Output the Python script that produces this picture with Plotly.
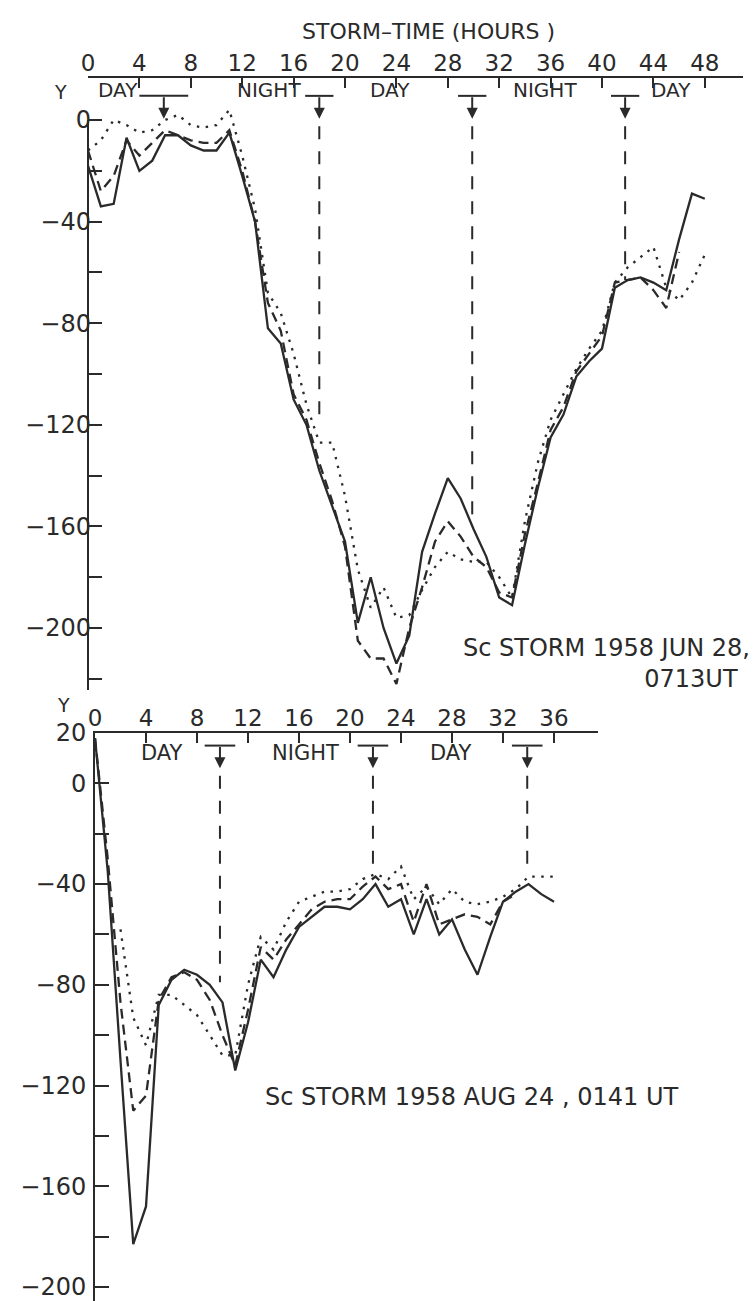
import plotly.graph_objects as go

W, H = 755, 1301
INK = "#2a2a2a"
FONT = "DejaVu Sans"

# ---------------- data: storm of 1958 JUN 28 (top panel) ----------------
top_hours = list(range(0, 49))
top_solid = [-18, -34, -33, -7, -20, -16, -6, -6, -10, -12, -12, -5,
             -22, -40, -82, -88, -110, -120, -138, -152, -166, -198, -180, -200,
             -214, -203, -170, -155, -141, -149, -161, -172, -188, -191, -167, -145,
             -125, -116, -101, -95, -90, -66, -63, -62, -64, -67, -47, -29, -31]
top_dashed_hours = list(range(0, 47))
top_dashed = [-12, -28, -22, -8, -14, -9, -4, -6, -8, -9, -9, -4,
              -20, -40, -72, -83, -108, -118, -135, -150, -168, -205, -212, -212,
              -222, -200, -184, -166, -158, -164, -172, -176, -186, -188, -163, -143,
              -122, -113, -99, -92, -85, -64, -63, -62, -67, -74, -52]
top_dotted = [-12, -8, 0, -2, -5, -4, 0, 2, -2, -3, -2, 4,
              -14, -35, -68, -76, -92, -112, -127, -127, -148, -177, -192, -184,
              -196, -195, -185, -176, -170, -173, -174, -174, -180, -188, -158, -135,
              -118, -108, -98, -90, -83, -64, -58, -54, -50, -66, -71, -64, -53]

# ---------------- data: storm of 1958 AUG 24 (bottom panel) ----------------
bot_hours = list(range(0, 37))
bot_solid = [18, -35, -110, -183, -168, -88, -78, -74, -76, -80, -87, -114,
             -95, -70, -77, -66, -57, -53, -49, -49, -50, -46, -40, -49,
             -46, -60, -46, -60, -54, -66, -76, -61, -47, -43, -40, -44, -47]
bot_dashed_hours = list(range(0, 34))
bot_dashed = [18, -30, -87, -130, -124, -86, -77, -75, -78, -86, -100, -112,
              -90, -65, -70, -62, -56, -50, -47, -46, -46, -41, -37, -42,
              -40, -55, -40, -56, -54, -52, -53, -56, -47, -44]
bot_dotted_hours = list(range(2, 37))
bot_dotted = [-58, -93, -104, -84, -84, -88, -92, -100, -108, -108,
              -80, -61, -66, -55, -47, -45, -43, -43, -42, -38, -36, -38,
              -33, -46, -41, -48, -42, -47, -48, -47, -45, -42, -37, -37, -37]

# tick labels
top_xticks = list(range(0, 49, 4))
bot_xticks = list(range(0, 37, 4))
top_yticks = list(range(0, -221, -20))
top_ylabels = ["0", "", "\u221240", "", "\u221280", "", "\u2212120", "", "\u2212160", "", "\u2212200", ""]
bot_yticks = list(range(20, -201, -20))
bot_ylabels = ["20", "0", "", "\u221240", "", "\u221280", "", "\u2212120", "", "\u2212160", "", "\u2212200"]

# local noon / midnight markers (hours) and day/night labels
top_marks = [5.9, 18.0, 29.9, 41.8]
top_mark_ends = [None, -119, -157, -63]
bot_marks = [9.8, 21.8, 33.9]
bot_mark_ends = [-79, -36, -36]
top_phase = ["DAY", "NIGHT", "DAY", "NIGHT", "DAY"]
top_phase_x = [2.35, 14.1, 23.5, 35.6, 45.4]
bot_phase = ["DAY", "NIGHT", "DAY"]
bot_phase_x = [5.25, 16.5, 27.9]

# ---------------- geometry (pixels) ----------------
TOP_X0, TOP_PXH = 88, 12.85
TOP_Y0, TOP_PXU = 120, 2.54
BOT_X0, BOT_PXH = 95, 12.75
BOT_Y0, BOT_PXU = 783, 2.52


def px(x):
    return x / W


def py(y):
    return 1 - y / H


top_xr = [0, (743 - TOP_X0) / TOP_PXH]
top_yr = [(TOP_Y0 - 690) / TOP_PXU, (TOP_Y0 - 78) / TOP_PXU]
bot_xr = [0, (598 - BOT_X0) / BOT_PXH]
bot_yr = [(BOT_Y0 - H) / BOT_PXU, 20]

fig = go.Figure()


def add_line(x, y, xa, ya, dash):
    fig.add_trace(go.Scatter(x=x, y=y, mode="lines", xaxis=xa, yaxis=ya,
                             line=dict(color=INK, width=2.3, dash=dash),
                             showlegend=False, hoverinfo="skip"))


DOT = "2.5px,6.5px"
DASH = "10px,6px"
add_line(top_hours, top_solid, "x", "y", "solid")
add_line(top_dashed_hours, top_dashed, "x", "y", DASH)
add_line(top_hours, top_dotted, "x", "y", DOT)
add_line(bot_hours, bot_solid, "x2", "y2", "solid")
add_line(bot_dashed_hours, bot_dashed, "x2", "y2", DASH)
add_line(bot_dotted_hours, bot_dotted, "x2", "y2", DOT)

tickfont = dict(family=FONT, size=23, color=INK)
common_x = dict(side="top", showline=True, linecolor=INK, linewidth=2, ticks="inside",
                ticklen=10, tickwidth=2, tickcolor=INK, showgrid=False, zeroline=False,
                tickfont=tickfont, ticklabelstandoff=-4, automargin=False,
                ticklabeloverflow="allow")
common_y = dict(ticks="inside", ticklen=14, tickwidth=2, tickcolor=INK, showgrid=False,
                zeroline=False, tickfont=dict(family=FONT, size=24, color=INK),
                tickmode="array", automargin=False, ticklabeloverflow="allow")

fig.update_layout(
    template="none",
    width=W, height=H, margin=dict(l=0, r=0, t=0, b=0, pad=0, autoexpand=False),
    paper_bgcolor="white", plot_bgcolor="white",
    xaxis=dict(domain=[px(TOP_X0), px(743)], range=top_xr, anchor="y",
               tickvals=top_xticks, **common_x),
    yaxis=dict(domain=[py(690), py(78)], range=top_yr, anchor="x", showline=False,
               tickvals=top_yticks, ticktext=top_ylabels, ticklabelstandoff=-4,
               **common_y),
    xaxis2=dict(domain=[px(BOT_X0), px(598)], range=bot_xr, anchor="y2",
                tickvals=bot_xticks, **common_x),
    yaxis2=dict(domain=[0, py(733)], range=bot_yr, anchor="x2", showline=True,
                linecolor=INK, linewidth=2, ticklabelstandoff=2,
                tickvals=bot_yticks, ticktext=bot_ylabels, **common_y),
)

shapes = []
# top y-axis line from 0 downward
shapes.append(dict(type="line", xref="paper", yref="y", x0=px(TOP_X0), x1=px(TOP_X0),
                   y0=0, y1=top_yr[0], line=dict(color=INK, width=2)))

annotations = []


def marker(xref, yref, h, bar_y, tip_y, half, end):
    shapes.append(dict(type="line", xref=xref, yref=yref, x0=h - half, x1=h + half,
                       y0=bar_y, y1=bar_y, line=dict(color=INK, width=2)))
    annotations.append(dict(xref=xref, yref=yref, x=h, y=tip_y, ax=h, ay=bar_y,
                            axref=xref, ayref=yref, text="", showarrow=True,
                            arrowhead=2, arrowsize=1.1, arrowwidth=2, arrowcolor=INK))
    if end is not None:
        shapes.append(dict(type="line", xref=xref, yref=yref, x0=h, x1=h,
                           y0=tip_y - 3, y1=end,
                           line=dict(color=INK, width=2, dash="13px,12px")))


for i, (h, e) in enumerate(zip(top_marks, top_mark_ends)):
    marker("x", "y", h, 9.5, 0.5, 1.9 if i == 0 else 1.1, e)
for h, e in zip(bot_marks, bot_mark_ends):
    marker("x2", "y2", h, 15, 6, 1.2, e)


def label(xref, yref, x, y, text, size, xanchor="center", align="center"):
    annotations.append(dict(xref=xref, yref=yref, x=x, y=y, text=text, showarrow=False,
                            xanchor=xanchor, yanchor="middle", align=align,
                            font=dict(family=FONT, size=size, color=INK)))


for t, x in zip(top_phase, top_phase_x):
    label("x", "y", x, 11.8, t, 20)
for t, x in zip(bot_phase, bot_phase_x):
    label("x2", "y2", x, 12.2, t, 21)

label("paper", "paper", px(428), py(31), "STORM\u2013TIME (HOURS )", 22)
label("paper", "paper", px(60), py(92), "Y", 19)
label("paper", "paper", px(63), py(705), "Y", 19)
label("paper", "paper", px(752), py(663), "Sc STORM 1958 JUN 28,<br>0713UT \u2009", 24,
      "right", "right")
label("paper", "paper", px(263), py(1097), "Sc STORM 1958 AUG 24 , 0141 UT", 24, "left")

fig.update_layout(shapes=shapes, annotations=annotations)
fig.write_html("out.html", config={"displayModeBar": False},
               post_script="document.body.style.margin='0px';")
